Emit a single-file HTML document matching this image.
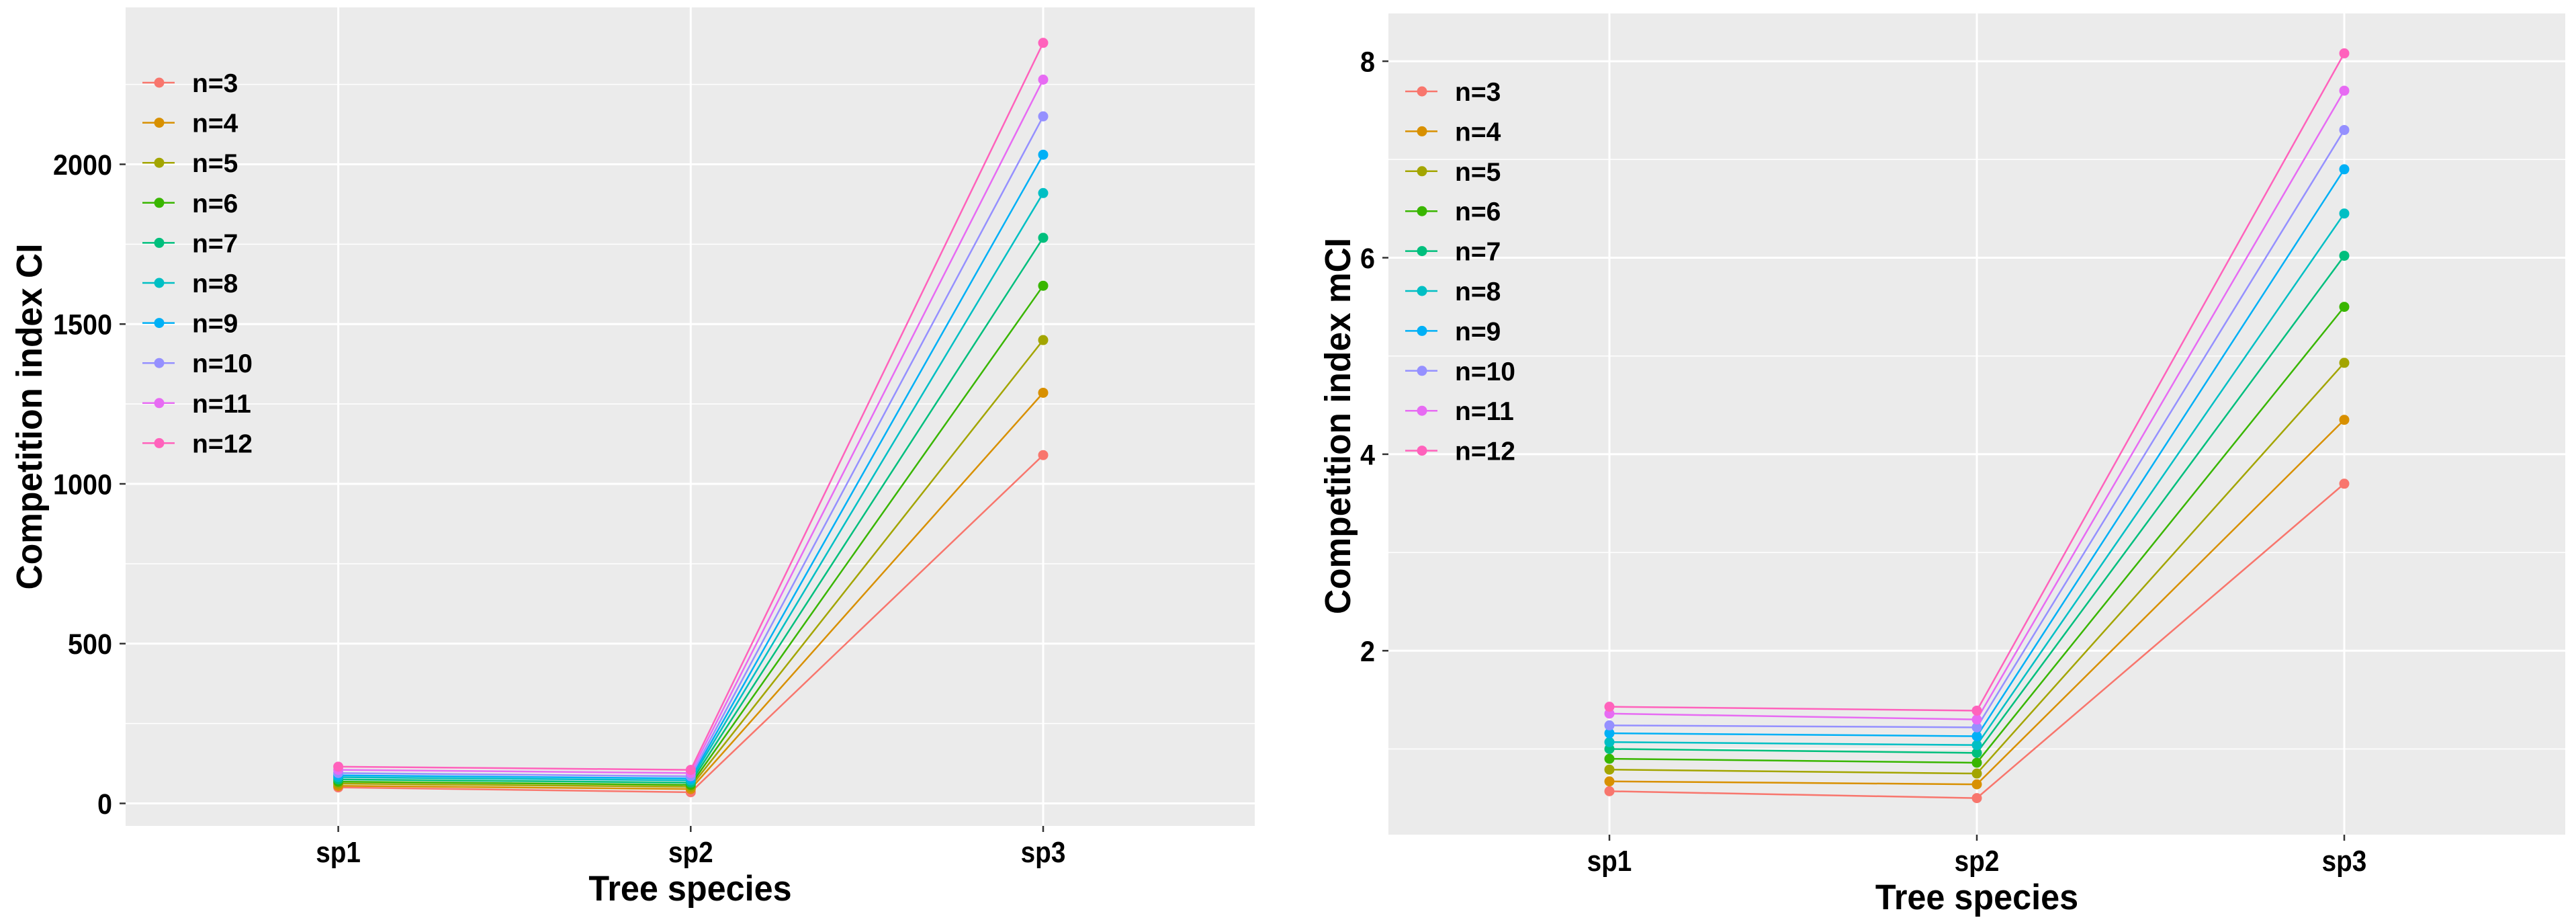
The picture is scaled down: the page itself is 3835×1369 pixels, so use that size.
<!DOCTYPE html>
<html><head><meta charset="utf-8"><style>
html,body{margin:0;padding:0;background:#fff;}
svg{display:block;font-family:"Liberation Sans",Arial,sans-serif;}
</style></head><body>
<svg id="chart" width="3835" height="1369" viewBox="0 0 3835 1369" xmlns="http://www.w3.org/2000/svg"></svg>
<script>
const categories = ["sp1","sp2","sp3"];
const seriesNames = ["n=3","n=4","n=5","n=6","n=7","n=8","n=9","n=10","n=11","n=12"];
const colors = ["#F8766D","#D89000","#A3A500","#39B600","#00BF7D","#00BFC4","#00B0F6","#9590FF","#E76BF3","#FF62BC"];
const ciSp1 = [50,55,62,68,75,82,88,95,105,115];
const ciSp2 = [35,45,52,58,65,72,78,85,95,105];
const ciSp3 = [1090,1285,1450,1620,1770,1910,2030,2150,2265,2380];
const ciTicks = [0,500,1000,1500,2000];
const mciSp1 = [0.57,0.67,0.79,0.90,1.00,1.07,1.16,1.24,1.36,1.43];
const mciSp2 = [0.50,0.64,0.75,0.86,0.96,1.04,1.13,1.22,1.30,1.39];
const mciSp3 = [3.70,4.35,4.93,5.50,6.02,6.45,6.90,7.30,7.70,8.08];
const mciTicks = [2,4,6,8];

const NS="http://www.w3.org/2000/svg";
const svg=document.getElementById('chart');
function mk(tag,attrs,parent){const e=document.createElementNS(NS,tag);for(const k in attrs)e.setAttribute(k,attrs[k]);(parent||svg).appendChild(e);return e;}
function sx(x,s){return `translate(${x},0) scale(${s},1) translate(${-x},0)`;}

function panel(cfg){
  const g=mk('g',{});
  
  
  const {x0,x1,y0,y1}=cfg;
  const bg=mk('rect',{x:x0,y:y0,width:x1-x0,height:y1-y0,fill:'#EBEBEB'},g);
  
  
  const yS=v=>cfg.yPix0+(v-cfg.yVal0)*cfg.yPerUnit;
  const xS=i=>cfg.xPix0+i*cfg.xStep;
  for(let v=cfg.minorStart;yS(v)>=y0;v+=cfg.minorStep){
    const yy=yS(v); if(yy>y1) continue;
    const l=mk('line',{x1:x0,x2:x1,y1:yy,y2:yy,stroke:'#fff','stroke-width':1.5},g);
    
    
  }
  cfg.ticks.forEach(t=>{
    const yy=yS(t);
    const l=mk('line',{x1:x0,x2:x1,y1:yy,y2:yy,stroke:'#fff','stroke-width':3},g);
    
    
    mk('line',{x1:x0-9,x2:x0,y1:yy,y2:yy,stroke:'#333','stroke-width':2.5},g);
    const tx=mk('text',{x:x0-20,y:yy+15.5,'text-anchor':'end','font-size':43,'font-weight':'bold',fill:'#000',transform:sx(x0-20,0.92)},g);
    tx.textContent=t;
    
    
  });
  categories.forEach((c,i)=>{
    const xx=xS(i);
    const l=mk('line',{x1:xx,x2:xx,y1:y0,y2:y1,stroke:'#fff','stroke-width':3},g);
    
    
    mk('line',{x1:xx,x2:xx,y1:y1,y2:y1+9,stroke:'#333','stroke-width':2.5},g);
    const tx=mk('text',{x:xx,y:y1+54,'text-anchor':'middle','font-size':44,'font-weight':'bold',fill:'#000',transform:sx(xx,0.88)},g);
    tx.textContent=c;
    
    
  });
  seriesNames.forEach((s,k)=>{
    const vals=[cfg.s1[k],cfg.s2[k],cfg.s3[k]];
    const pts=vals.map((v,i)=>xS(i)+','+yS(v)).join(' ');
    const pl=mk('polyline',{points:pts,fill:'none',stroke:colors[k],'stroke-width':2.5},g);
    
    
    vals.forEach((v,i)=>{
      const c=mk('circle',{cx:xS(i),cy:yS(v),r:7.5,fill:colors[k]},g);
      
      
    });
    const ly=cfg.legY+k*cfg.legStep;
    const lk=mk('g',{},g);
    
    
    mk('line',{x1:cfg.legX-25,x2:cfg.legX+23,y1:ly,y2:ly,stroke:colors[k],'stroke-width':2.5},lk);
    mk('circle',{cx:cfg.legX,cy:ly,r:7.5,fill:colors[k]},lk);
    const lt=mk('text',{x:cfg.legX+49,y:ly+14,'font-size':39,'font-weight':'bold',fill:'#000'},lk);
    lt.textContent=s;
  });
  const cx=(x0+x1)/2;
  const xt=mk('text',{x:cx,y:y1+111,'text-anchor':'middle','font-size':53,'font-weight':'bold',fill:'#000',transform:sx(cx,0.95)},g);
  xt.textContent='Tree species';
  
  
  const yt=mk('text',{x:0,y:0,'text-anchor':'middle','font-size':54,'font-weight':'bold',fill:'#000',textLength:cfg.ytLen,lengthAdjust:'spacingAndGlyphs',transform:`translate(${cfg.ytX},${cfg.ytY}) rotate(-90)`},g);
  yt.textContent=cfg.ytitle;
  
  
}

panel({name:'left-panel-ci',x0:187,x1:1868,y0:11,y1:1229,xPix0:503.6,xStep:524.7,
  yPix0:1195.5,yVal0:0,yPerUnit:-0.4755,minorStart:-250,minorStep:500,ticks:ciTicks,
  s1:ciSp1,s2:ciSp2,s3:ciSp3,legX:237,legY:123,legStep:59.6,ytitle:'Competition index CI',ytX:62,ytY:620,ytLen:515});
panel({name:'right-panel-mci',x0:2067,x1:3819,y0:20,y1:1242,xPix0:2396,xStep:547,
  yPix0:968.3,yVal0:2,yPerUnit:-146.2,minorStart:1,minorStep:2,ticks:mciTicks,
  s1:mciSp1,s2:mciSp2,s3:mciSp3,legX:2117,legY:136,legStep:59.4,ytitle:'Competition index mCI',ytX:2010,ytY:634,ytLen:560});
</script>
</body></html>
